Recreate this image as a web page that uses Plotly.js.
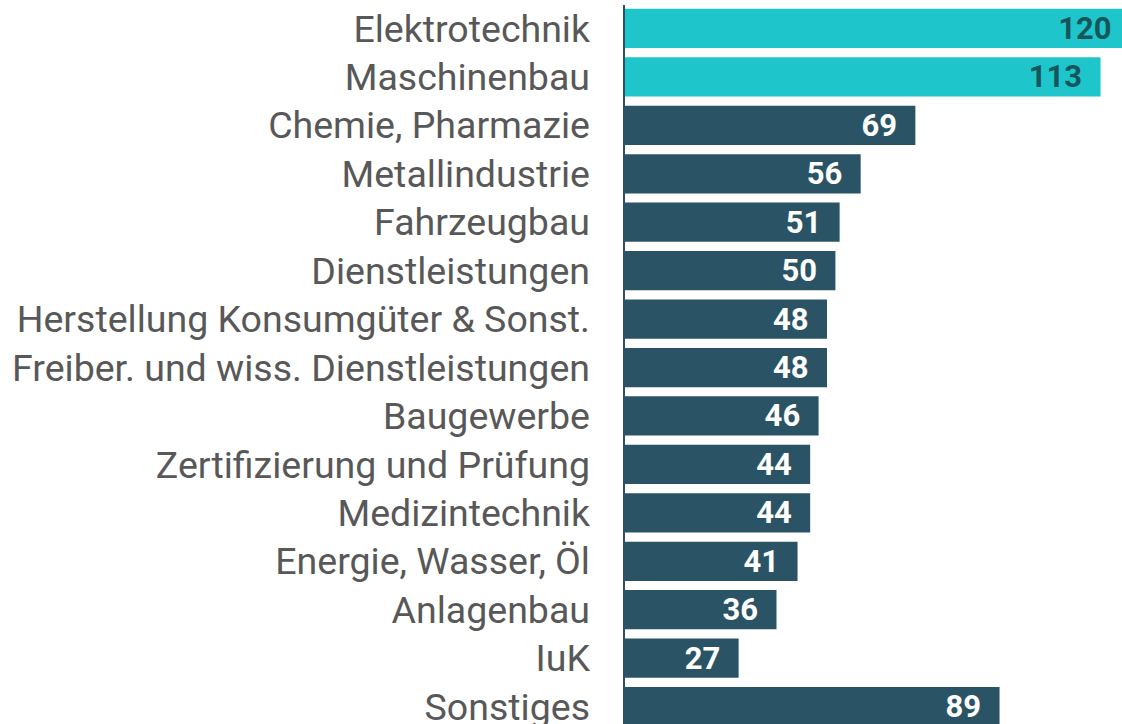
<!DOCTYPE html>
<html>
<head>
<meta charset="utf-8">
<script src="https://cdn.plot.ly/plotly-3.0.1.min.js"></script>
<style>html,body{margin:0;padding:0;background:#fff;overflow:hidden;}#chart{width:1130px;height:724px;}</style>
</head>
<body>
<div id="chart"></div>
<script>
const categories = ["Elektrotechnik","Maschinenbau","Chemie, Pharmazie","Metallindustrie","Fahrzeugbau","Dienstleistungen","Herstellung Konsumgüter & Sonst.","Freiber. und wiss. Dienstleistungen","Baugewerbe","Zertifizierung und Prüfung","Medizintechnik","Energie, Wasser, Öl","Anlagenbau","IuK","Sonstiges"];
const values = [120,113,69,56,51,50,48,48,46,44,44,41,36,27,89];
const highlighted = [true,true,false,false,false,false,false,false,false,false,false,false,false,false,false];

const CYAN = "#1ec6cc", DARK = "#2a5465";
const barColors = highlighted.map(h => h ? CYAN : DARK);
const textColors = highlighted.map(h => h ? "#15565b" : "#ffffff");

const trace = {
  type: "bar",
  orientation: "h",
  y: categories,
  x: values,
  marker: {color: barColors, line: {width: 0}},
  text: values.map(v => v + "\u00A0\u00A0"),
  textposition: "inside",
  insidetextanchor: "end",
  textangle: 0,
  constraintext: "none",
  cliponaxis: false,
  textfont: {family: "Roboto", size: 31, color: textColors, weight: "bold"},
  hoverinfo: "none"
};

const layout = {
  width: 1130, height: 724,
  margin: {l: 625, r: 0, t: 5, b: 0},
  paper_bgcolor: "#fff", plot_bgcolor: "#fff",
  bargap: 0.19,
  showlegend: false,
  xaxis: {range: [0, 120], visible: false, fixedrange: true},
  yaxis: {
    type: "category",
    range: [14.36, -0.485],
    showline: true, linecolor: DARK, linewidth: 2.5,
    showgrid: false, zeroline: false,
    ticks: "outside", ticklen: 25, tickcolor: "rgba(0,0,0,0)",
    tickfont: {family: "Roboto", size: 37.5, color: "#585858"},
    fixedrange: true
  }
};

Plotly.newPlot("chart", [trace], layout, {displayModeBar: false, staticPlot: true});
</script>
</body>
</html>
